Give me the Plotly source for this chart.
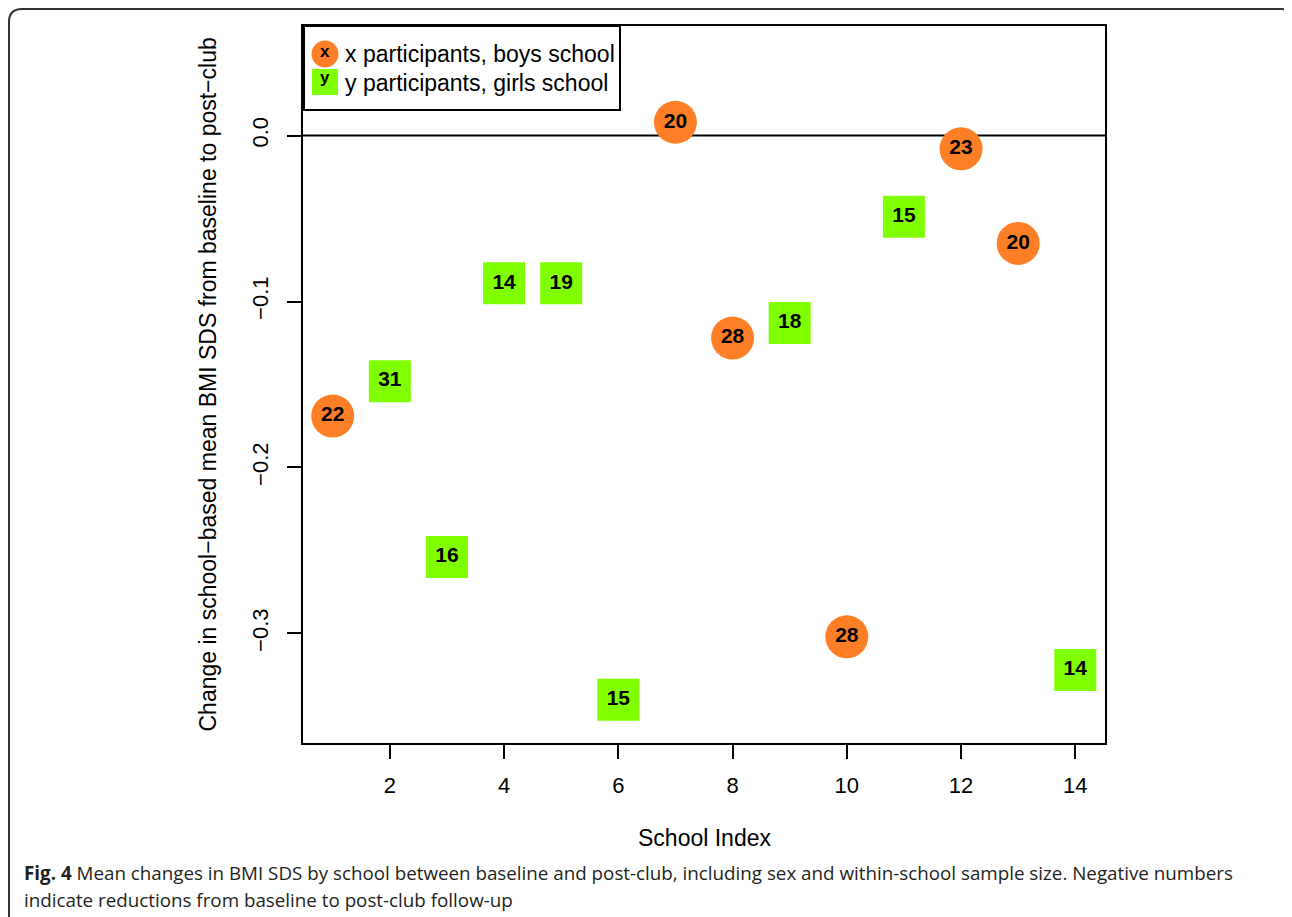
import plotly.graph_objects as go

# ---- data ----
boys_school = [1, 7, 8, 10, 12, 13]
boys_change = [-0.169, 0.008, -0.122, -0.302, -0.008, -0.065]
boys_n = [22, 20, 28, 28, 23, 20]

girls_school = [2, 3, 4, 5, 6, 9, 11, 14]
girls_change = [-0.148, -0.254, -0.089, -0.089, -0.340, -0.113, -0.049, -0.322]
girls_n = [31, 16, 14, 19, 15, 18, 15, 14]

x_ticks = [2, 4, 6, 8, 10, 12, 14]
y_ticks = [0.0, -0.1, -0.2, -0.3]

ORANGE = "#FF7F27"
GREEN = "#7FFF00"
FONT = "Liberation Sans, Arial, Helvetica, sans-serif"
CAP_FONT = "Open Sans, sans-serif"

fig = go.Figure()

fig.add_trace(go.Scatter(
    x=boys_school, y=boys_change, mode="markers+text",
    text=[str(v) for v in boys_n], textposition="middle center",
    textfont=dict(family=FONT, size=21, color="black", weight="bold"),
    marker=dict(symbol="circle", size=43, color=ORANGE, line=dict(width=0)),
    showlegend=False, cliponaxis=False,
))
fig.add_trace(go.Scatter(
    x=girls_school, y=girls_change, mode="markers+text",
    text=[str(v) for v in girls_n], textposition="middle center",
    textfont=dict(family=FONT, size=21, color="black", weight="bold"),
    marker=dict(symbol="square", size=42, color=GREEN, line=dict(width=0)),
    showlegend=False, cliponaxis=False,
))

# page body offset compensation (browser default margin)
O = 8
W, H = 1292 - O, 917 - O
# plot area in reference pixels
L, R, T, B = 303, 1105, 26, 743
pw, ph = R - L, B - T


def px(x):
    return (x - L) / pw


def py(y):
    return (B - y) / ph


shapes = [
    dict(type="line", xref="paper", yref="y", x0=0, x1=1, y0=0, y1=0,
         line=dict(color="black", width=2), layer="below"),
    dict(type="rect", xref="paper", yref="paper", x0=px(304), x1=px(620),
         y0=py(110), y1=1, line=dict(color="black", width=2), fillcolor="white", layer="above"),
    dict(type="circle", xref="paper", yref="paper", xsizemode="pixel", ysizemode="pixel",
         xanchor=px(325), yanchor=py(54), x0=-13.5, x1=13.5, y0=-13.5, y1=13.5,
         fillcolor=ORANGE, line=dict(width=0), layer="above"),
    dict(type="rect", xref="paper", yref="paper", xsizemode="pixel", ysizemode="pixel",
         xanchor=px(325), yanchor=py(82), x0=-13, x1=13, y0=-13, y1=13,
         fillcolor=GREEN, line=dict(width=0), layer="above"),
    dict(type="path", xref="paper", yref="paper",
         path="M {a},{b} L {a},{c} Q {a},{d} {e},{d} L {f},{d} Q {g},{d} {h},{i}".format(
             a=px(9), b=py(925), c=py(22), d=py(9), e=px(22), f=px(1282), g=px(1286), h=px(1290), i=py(14)),
         line=dict(color="#333333", width=2), layer="above"),
]

annotations = [
    dict(text="<b>x</b>", xref="paper", yref="paper", x=px(325), y=py(52), showarrow=False,
         font=dict(family=FONT, size=17, color="black"), xanchor="center", yanchor="middle"),
    dict(text="<b>y</b>", xref="paper", yref="paper", x=px(325), y=py(78), showarrow=False,
         font=dict(family=FONT, size=17, color="black"), xanchor="center", yanchor="middle"),
    dict(text="x participants, boys school", xref="paper", yref="paper", x=px(343), y=py(54),
         showarrow=False, font=dict(family=FONT, size=23, color="black"), xanchor="left", yanchor="middle"),
    dict(text="y participants, girls school", xref="paper", yref="paper", x=px(343), y=py(83),
         showarrow=False, font=dict(family=FONT, size=23, color="black"), xanchor="left", yanchor="middle"),
    dict(text="School Index", xref="paper", yref="paper", x=0.5, y=py(838), showarrow=False,
         font=dict(family=FONT, size=23, color="black"), xanchor="center", yanchor="middle"),
    dict(text="Change in school\u2212based mean BMI SDS from baseline to post\u2212club",
         xref="paper", yref="paper", x=px(207), y=0.5, showarrow=False, textangle=-90,
         font=dict(family=FONT, size=23, color="black"), xanchor="center", yanchor="middle"),
    dict(text="<b>Fig. 4</b> Mean changes in BMI SDS by school between baseline and post-club, including sex and within-school sample size. Negative numbers",
         xref="paper", yref="paper", x=px(22), y=py(873), showarrow=False,
         font=dict(family=CAP_FONT, size=18.8, color="#231f20"), xanchor="left", yanchor="middle"),
    dict(text="indicate reductions from baseline to post-club follow-up",
         xref="paper", yref="paper", x=px(22), y=py(900), showarrow=False,
         font=dict(family=CAP_FONT, size=18.8, color="#231f20"), xanchor="left", yanchor="middle"),
]

fig.update_layout(
    width=W, height=H,
    margin=dict(l=L - O, r=W - (R - O), t=T - O, b=H - (B - O), pad=0),
    paper_bgcolor="white", plot_bgcolor="white",
    shapes=shapes, annotations=annotations,
    xaxis=dict(range=[0.48, 14.52], tickvals=x_ticks, ticktext=[str(v) for v in x_ticks],
               showgrid=False, zeroline=False, showline=True, mirror=True,
               linecolor="black", linewidth=2, ticks="outside", ticklen=14, tickwidth=1.5,
               tickcolor="black", ticklabelstandoff=8,
               tickfont=dict(family=FONT, size=22, color="black")),
    yaxis=dict(range=[-0.366, 0.066], tickvals=y_ticks, tickformat=".1f",
               showgrid=False, zeroline=False, showline=True, mirror=True,
               linecolor="black", linewidth=2, ticks="outside", ticklen=14, tickwidth=1.5,
               tickcolor="black", tickangle=-90, ticklabelstandoff=10,
               tickfont=dict(family=FONT, size=22, color="black")),
    font=dict(family=FONT),
)

fig.write_html("out.html")
